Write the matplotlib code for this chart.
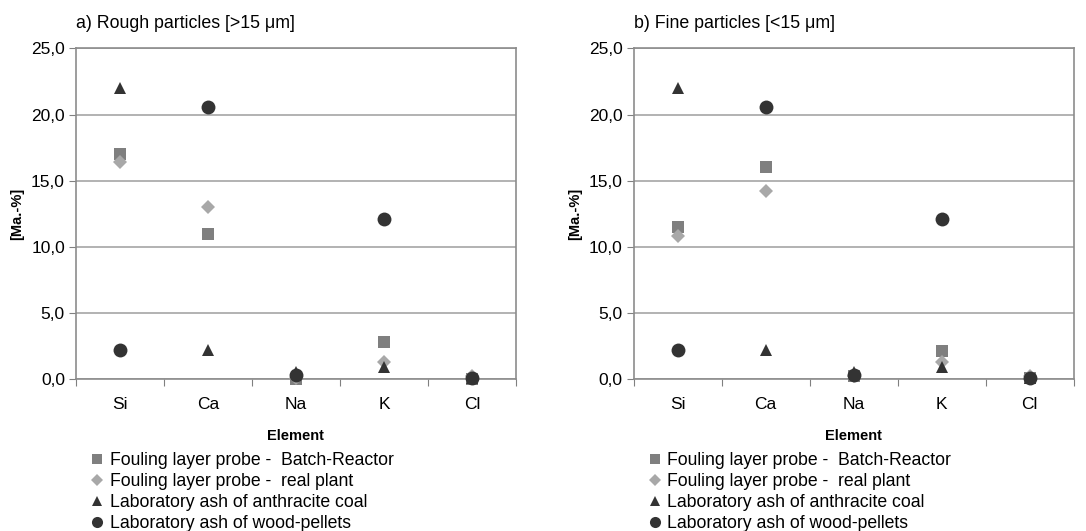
import numpy as np
import matplotlib

matplotlib.use("Agg")
import matplotlib.pyplot as plt
from matplotlib.lines import Line2D

plt.rcParams["font.family"] = ["Liberation Sans", "DejaVu Sans"]

elements = ["Si", "Ca", "Na", "K", "Cl"]

# a) rough particles [>15 um]
rough_batch = [17.0, 11.0, 0.0, 2.8, 0.0]
rough_plant = [16.4, 13.0, 0.1, 1.3, 0.2]
rough_coal = [22.0, 2.2, 0.5, 0.9, 0.1]
rough_wood = [2.2, 20.6, 0.3, 12.1, 0.1]

# b) fine particles [<15 um]
fine_batch = [11.5, 16.0, 0.2, 2.1, 0.1]
fine_plant = [10.8, 14.2, 0.2, 1.3, 0.2]
fine_coal = [22.0, 2.2, 0.5, 0.9, 0.1]
fine_wood = [2.2, 20.6, 0.3, 12.1, 0.1]

labels = [
    "Fouling layer probe -  Batch-Reactor",
    "Fouling layer probe -  real plant",
    "Laboratory ash of anthracite coal",
    "Laboratory ash of wood-pellets",
]
styles = [
    dict(marker="s", color="#7f7f7f", ms=8.5),
    dict(marker="D", color="#a8a8a8", ms=7.5),
    dict(marker="^", color="#333333", ms=8.5),
    dict(marker="o", color="#333333", ms=10),
]

fig = plt.figure(figsize=(10.86, 5.31), dpi=100)
axes = [
    fig.add_axes([0.070, 0.2863, 0.405, 0.6224]),
    fig.add_axes([0.5835, 0.2863, 0.405, 0.6224]),
]
titles = ["a) Rough particles [>15 \u03bcm]", "b) Fine particles [<15 \u03bcm]"]
panels = [
    [rough_batch, rough_plant, rough_coal, rough_wood],
    [fine_batch, fine_plant, fine_coal, fine_wood],
]

x = np.arange(len(elements))
for ax, title, series in zip(axes, titles, panels):
    for vals, st in zip(series, styles):
        ax.plot(x, vals, linestyle="none", marker=st["marker"], color=st["color"],
                markersize=st["ms"], markeredgewidth=0, clip_on=False, zorder=3)
    ax.set_xlim(-0.5, 4.5)
    ax.set_ylim(0, 25)
    ax.set_yticks(np.arange(0, 26, 5))
    ax.set_yticklabels([f"{v:.1f}".replace(".", ",") for v in np.arange(0, 26, 5)], fontsize=12.5)
    ax.set_xticks(np.arange(-0.5, 4.6, 1))
    ax.set_xticklabels([])
    ax.set_xticks(x, minor=True)
    ax.set_xticklabels(elements, minor=True, fontsize=12.5)
    ax.tick_params(axis="x", which="major", length=5, color="#808080", direction="out")
    ax.tick_params(axis="x", which="minor", length=0, pad=13)
    ax.tick_params(axis="y", length=5, color="#808080", direction="out", pad=3)
    ax.grid(axis="y", color="#a6a6a6", linewidth=1.2)
    ax.set_axisbelow(True)
    for sp in ax.spines.values():
        sp.set_color("#8c8c8c")
        sp.set_linewidth(1.2)
    ax.set_ylabel("[Ma.-%]", fontsize=10.5, fontweight="bold", labelpad=5)
    ax.set_xlabel("Element", fontsize=10.5, fontweight="bold", labelpad=12)
    ax.text(0.0, 1.05, title, transform=ax.transAxes, fontsize=12.8, ha="left", va="bottom")

    handles = [Line2D([], [], linestyle="none", marker=st["marker"], color=st["color"],
                      markersize=st["ms"] * 0.8, markeredgewidth=0) for st in styles]
    ax.legend(handles, labels, loc="upper left", bbox_to_anchor=(0.02, -0.2),
              frameon=False, fontsize=12.7, handlelength=0.6, handletextpad=0.4,
              labelspacing=0.22, borderaxespad=0)

fig.savefig("out.png", dpi=100)
